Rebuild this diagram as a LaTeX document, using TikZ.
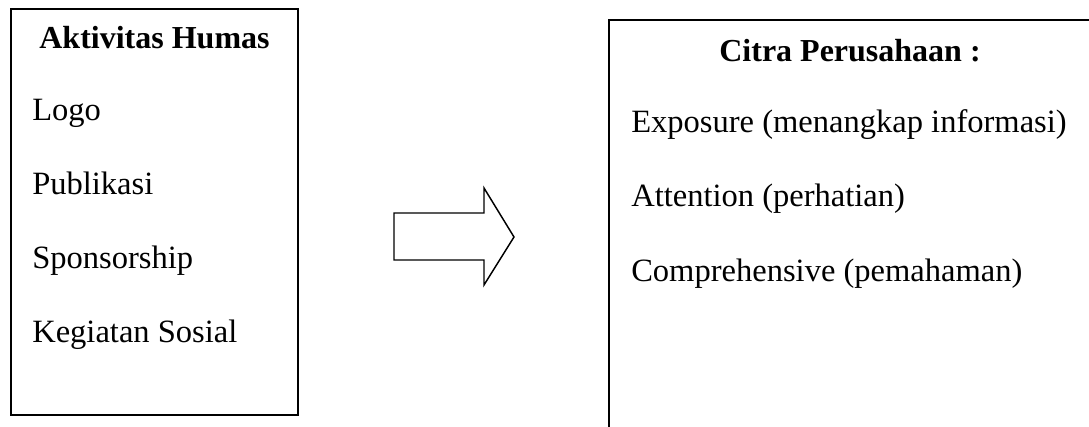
\documentclass[tikz,border=0pt]{standalone}
\usepackage{fontspec}
\setmainfont{Liberation Serif}
\begin{document}
\begin{tikzpicture}[x=0.75pt,y=-0.75pt,
  boxline/.style={draw=black,line width=1.2pt},
  txt/.style={inner sep=0pt,anchor=base west,font=\fontsize{24.4}{28}\selectfont},
  ttl/.style={inner sep=0pt,anchor=base,font=\fontsize{24}{28}\selectfont\bfseries}]
\useasboundingbox (0,0) rectangle (1089,427);
\clip (0,0) rectangle (1089,427);
% left box
\draw[boxline] (11,9) rectangle (298,415);
\node[ttl] (lt) at (154.5,49) {Aktivitas Humas};
\node[txt] (l1) at (32,121) {Logo};
\node[txt] (l2) at (32,195) {Publikasi};
\node[txt] (l3) at (32,269) {Sponsorship};
\node[txt] (l4) at (32,343) {Kegiatan Sosial};
% block arrow
\draw[line width=1.1pt,line join=miter] (394,213) -- (484,213) -- (484,188) -- (514,237) -- (484,285) -- (484,260) -- (394,260) -- cycle;
% right box
\draw[boxline] (609,20) rectangle (1092,440);
\node[ttl] (rt) at (850,62) {Citra Perusahaan :};
\node[txt] (r1) at (631,133) {Exposure (menangkap informasi)};
\node[txt] (r2) at (631,207) {Attention (perhatian)};
\node[txt] (r3) at (631,282) {Comprehensive (pemahaman)};
\end{tikzpicture}
\end{document}
